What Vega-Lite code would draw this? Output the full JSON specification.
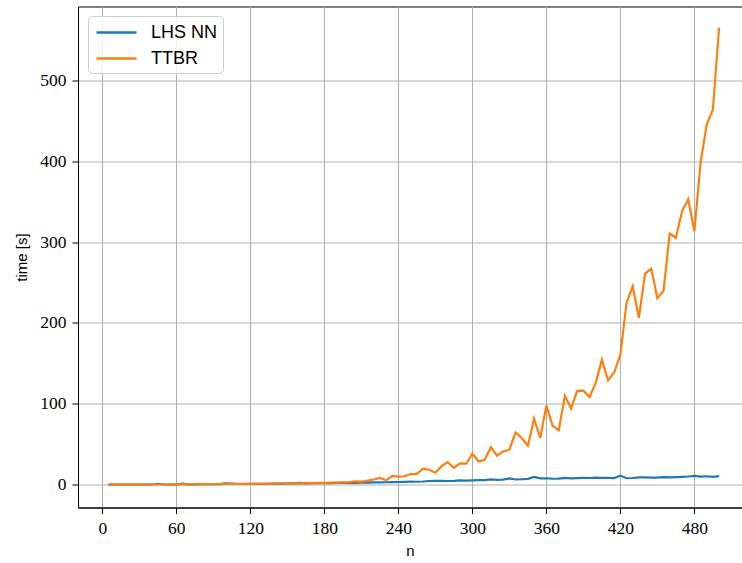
{
  "$schema": "https://vega.github.io/schema/vega-lite/v6.json",
  "width": 664,
  "height": 501,
  "autosize": {"type": "none"},
  "padding": {"left": 78, "top": 6.5, "right": 0, "bottom": 55.5},
  "background": "white",
  "config": {
    "view": {"stroke": "black", "strokeWidth": 1},
    "axis": {
      "grid": true,
      "gridColor": "#b0b0b0",
      "gridWidth": 1,
      "domainColor": "black",
      "domainWidth": 1,
      "tickColor": "black",
      "tickSize": 6,
      "tickWidth": 1,
      "labelFont": "Liberation Serif",
      "labelFontSize": 17.5,
      "labelColor": "black",
      "titleFont": "Liberation Sans",
      "titleFontSize": 15,
      "titleFontWeight": "normal",
      "titleColor": "black"
    }
  },
  "data": {"values": [
    {"n":5,"LHS NN":0.1,"TTBR":0.1},{"n":10,"LHS NN":0.1,"TTBR":0.1},{"n":15,"LHS NN":0.1,"TTBR":0.1},{"n":20,"LHS NN":0.2,"TTBR":0.1},
    {"n":25,"LHS NN":0.2,"TTBR":0.2},{"n":30,"LHS NN":0.2,"TTBR":0.2},{"n":35,"LHS NN":0.2,"TTBR":0.2},{"n":40,"LHS NN":0.3,"TTBR":0.3},
    {"n":45,"LHS NN":1.2,"TTBR":0.3},{"n":50,"LHS NN":0.3,"TTBR":0.3},{"n":55,"LHS NN":0.3,"TTBR":0.4},{"n":60,"LHS NN":0.4,"TTBR":0.4},
    {"n":65,"LHS NN":1.3,"TTBR":0.5},{"n":70,"LHS NN":0.5,"TTBR":0.5},{"n":75,"LHS NN":0.5,"TTBR":0.6},{"n":80,"LHS NN":0.6,"TTBR":0.6},
    {"n":85,"LHS NN":0.6,"TTBR":0.7},{"n":90,"LHS NN":0.7,"TTBR":0.7},{"n":95,"LHS NN":0.8,"TTBR":0.8},{"n":100,"LHS NN":1.6,"TTBR":0.9},
    {"n":105,"LHS NN":1.4,"TTBR":0.9},{"n":110,"LHS NN":0.9,"TTBR":1.0},{"n":115,"LHS NN":0.9,"TTBR":1.0},{"n":120,"LHS NN":1.0,"TTBR":1.1},
    {"n":125,"LHS NN":1.1,"TTBR":1.2},{"n":130,"LHS NN":1.1,"TTBR":1.2},{"n":135,"LHS NN":1.2,"TTBR":1.3},{"n":140,"LHS NN":1.3,"TTBR":1.4},
    {"n":145,"LHS NN":1.4,"TTBR":1.5},{"n":150,"LHS NN":1.5,"TTBR":1.6},{"n":155,"LHS NN":1.7,"TTBR":1.7},{"n":160,"LHS NN":2.2,"TTBR":1.8},
    {"n":165,"LHS NN":1.8,"TTBR":1.9},{"n":170,"LHS NN":1.9,"TTBR":2.0},{"n":175,"LHS NN":2.0,"TTBR":2.2},{"n":180,"LHS NN":2.0,"TTBR":2.3},
    {"n":185,"LHS NN":2.1,"TTBR":2.5},{"n":190,"LHS NN":2.3,"TTBR":2.7},{"n":195,"LHS NN":2.2,"TTBR":3.0},{"n":200,"LHS NN":2.4,"TTBR":3.3},
    {"n":205,"LHS NN":2.4,"TTBR":4.2},{"n":210,"LHS NN":2.6,"TTBR":3.8},{"n":215,"LHS NN":2.5,"TTBR":5.0},{"n":220,"LHS NN":2.8,"TTBR":6.5},
    {"n":225,"LHS NN":2.9,"TTBR":8.3},{"n":230,"LHS NN":3.1,"TTBR":5.5},{"n":235,"LHS NN":3.3,"TTBR":10.8},{"n":240,"LHS NN":3.4,"TTBR":10.0},
    {"n":245,"LHS NN":3.6,"TTBR":10.5},{"n":250,"LHS NN":3.8,"TTBR":13.2},{"n":255,"LHS NN":3.7,"TTBR":13.5},{"n":260,"LHS NN":4.0,"TTBR":19.8},
    {"n":265,"LHS NN":4.6,"TTBR":18.5},{"n":270,"LHS NN":4.7,"TTBR":14.8},{"n":275,"LHS NN":4.8,"TTBR":23.0},{"n":280,"LHS NN":4.6,"TTBR":28.0},
    {"n":285,"LHS NN":4.8,"TTBR":21.0},{"n":290,"LHS NN":5.5,"TTBR":26.5},{"n":295,"LHS NN":5.2,"TTBR":26.0},{"n":300,"LHS NN":5.5,"TTBR":38.4},
    {"n":305,"LHS NN":5.6,"TTBR":28.8},{"n":310,"LHS NN":5.8,"TTBR":30.9},{"n":315,"LHS NN":6.5,"TTBR":46.6},{"n":320,"LHS NN":6.1,"TTBR":35.9},
    {"n":325,"LHS NN":6.3,"TTBR":41.2},{"n":330,"LHS NN":7.8,"TTBR":43.3},{"n":335,"LHS NN":6.5,"TTBR":64.7},{"n":340,"LHS NN":6.8,"TTBR":57.8},
    {"n":345,"LHS NN":7.2,"TTBR":48.3},{"n":350,"LHS NN":9.6,"TTBR":81.7},{"n":355,"LHS NN":7.8,"TTBR":57.8},{"n":360,"LHS NN":8.0,"TTBR":97.8},
    {"n":365,"LHS NN":7.4,"TTBR":73.0},{"n":370,"LHS NN":7.6,"TTBR":67.2},{"n":375,"LHS NN":8.4,"TTBR":110.0},{"n":380,"LHS NN":7.8,"TTBR":94.0},
    {"n":385,"LHS NN":8.2,"TTBR":116.0},{"n":390,"LHS NN":8.6,"TTBR":116.3},{"n":395,"LHS NN":8.3,"TTBR":108.5},{"n":400,"LHS NN":8.9,"TTBR":126.0},
    {"n":405,"LHS NN":8.5,"TTBR":154.7},{"n":410,"LHS NN":8.4,"TTBR":129.0},{"n":415,"LHS NN":8.2,"TTBR":139.0},{"n":420,"LHS NN":11.3,"TTBR":160.9},
    {"n":425,"LHS NN":8.0,"TTBR":224.9},{"n":430,"LHS NN":8.3,"TTBR":245.4},{"n":435,"LHS NN":9.2,"TTBR":206.3},{"n":440,"LHS NN":9.0,"TTBR":261.0},
    {"n":445,"LHS NN":8.9,"TTBR":267.0},{"n":450,"LHS NN":8.9,"TTBR":230.6},{"n":455,"LHS NN":9.3,"TTBR":240.0},{"n":460,"LHS NN":9.1,"TTBR":310.6},
    {"n":465,"LHS NN":9.4,"TTBR":305.3},{"n":470,"LHS NN":9.8,"TTBR":338.3},{"n":475,"LHS NN":10.2,"TTBR":353.0},{"n":480,"LHS NN":11.0,"TTBR":313.5},
    {"n":485,"LHS NN":10.0,"TTBR":398.0},{"n":490,"LHS NN":10.5,"TTBR":445.5},{"n":495,"LHS NN":9.8,"TTBR":464.0},{"n":500,"LHS NN":10.6,"TTBR":565.0}
  ]},
  "transform": [{"fold": ["LHS NN", "TTBR"], "as": ["method", "time"]}],
  "mark": {"type": "line", "strokeWidth": 2.2, "clip": true},
  "encoding": {
    "x": {
      "field": "n", "type": "quantitative",
      "scale": {"domain": [-19.75, 518.6], "nice": false, "zero": false},
      "axis": {"values": [0, 60, 120, 180, 240, 300, 360, 420, 480], "title": "n", "labelPadding": 6, "titlePadding": 6}
    },
    "y": {
      "field": "time", "type": "quantitative",
      "scale": {"domain": [-28.15, 591.3], "nice": false, "zero": false},
      "axis": {"values": [0, 100, 200, 300, 400, 500], "title": "time [s]", "labelPadding": 6, "titlePadding": 10}
    },
    "color": {
      "field": "method", "type": "nominal",
      "scale": {"domain": ["LHS NN", "TTBR"], "range": ["#1f77b4", "#ff7f0e"]},
      "legend": {
        "title": null,
        "orient": "none",
        "legendX": 10,
        "legendY": 9.5,
        "symbolType": "M-0.8,0H3.2",
        "symbolSize": 400,
        "symbolStrokeWidth": 2.5,
        "labelFont": "Liberation Sans",
        "labelFontSize": 18,
        "labelColor": "black",
        "labelOffset": 35,
        "rowPadding": 5,
        "padding": 5,
        "strokeColor": "#cccccc",
        "fillColor": "rgba(255,255,255,0.8)",
        "cornerRadius": 4
      }
    }
  }
}
